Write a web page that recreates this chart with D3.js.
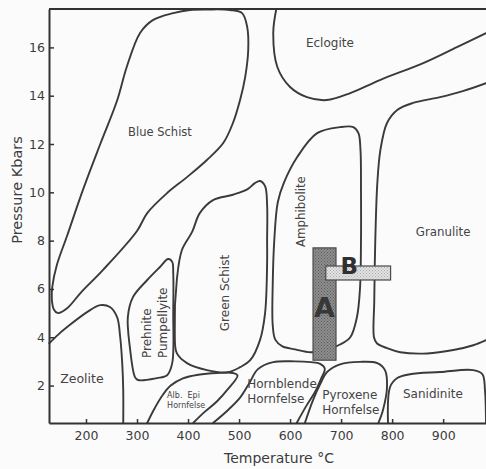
<!DOCTYPE html>
<html>
<head>
<meta charset="utf-8">
<script src="https://cdn.jsdelivr.net/npm/d3@7/dist/d3.min.js"></script>
<style>
  html, body { margin: 0; padding: 0; background: #fbfbfc; }
  svg { display: block; }
  text { font-family: "DejaVu Sans", Verdana, sans-serif; fill: #3c3c3c; }
</style>
</head>
<body>
<svg id="chart" width="486" height="469"></svg>
<script>
// Metamorphic facies diagram: temperature (°C) vs pressure (kbar)

const xTicks = [200, 300, 400, 500, 600, 700, 800, 900];
const yTicks = [2, 4, 6, 8, 10, 12, 14, 16];

// Facies boundaries as [temperature °C, pressure kbar]
// closed fields
const blueSchist = [
  [145, 5.0], [137, 5.15], [133, 5.6], [134, 6.1], [143, 7.0], [163, 8.2], [194, 10.1],
  [228, 12.0], [261, 13.8], [280, 15.2], [306, 16.6], [331, 17.13], [371, 17.42],
  [404, 17.55], [440, 17.57], [482, 17.55], [506, 17.42], [516, 16.84], [518, 15.9],
  [512, 14.77], [502, 13.82], [488, 12.87], [469, 12.04], [437, 11.34], [398, 10.63],
  [359, 9.97], [320, 9.14], [300, 8.4], [233, 6.78], [190, 5.85], [163, 5.2]
];
const greenSchist = [
  [541, 10.47], [551, 10.26], [555, 9.47], [555, 8.0], [555, 7.07], [551, 5.0],
  [541, 3.88], [522, 3.05], [502, 2.76], [477, 2.55], [437, 2.64], [398, 2.93],
  [378, 3.34], [374, 4.3], [378, 6.37], [388, 7.61], [408, 8.36], [423, 9.14],
  [449, 9.68], [488, 9.9], [516, 10.12], [531, 10.38]
];
const prehnitePumpellyite = [
  [282, 4.83], [292, 5.66], [320, 6.37], [345, 6.91], [361, 7.24], [369, 7.12],
  [371, 6.66], [371, 5.0], [369, 2.93], [359, 2.43], [339, 2.31], [302, 2.23],
  [296, 2.35], [286, 3.59]
];
const amphibolite = [
  [569, 8.0], [576, 9.6], [588, 10.4], [614, 11.46], [653, 12.45], [698, 12.7],
  [724, 12.7], [734, 12.45], [738, 11.75], [739, 10.0], [739, 8.0], [737, 6.0],
  [731, 4.83], [718, 4.0], [698, 3.7], [668, 3.45], [640, 3.38], [610, 3.5],
  [585, 3.62], [571, 3.9], [566, 4.5], [566, 6.2]
];
// open boundaries that run to the frame
const zeoliteEdge = [
  [128, 3.75], [145, 4.1], [163, 4.42], [202, 5.04], [228, 5.33], [247, 5.25],
  [261, 4.83], [267, 4.01], [271, 2.93], [273, 1.81], [273, 0.45]
];
const albEpiEdge = [
  [320, 0.45], [333, 1.0], [350, 1.6], [366, 2.0], [390, 2.3], [420, 2.45],
  [457, 2.52], [488, 2.52], [497, 2.42], [478, 1.85], [457, 1.35], [432, 0.9], [410, 0.45]
];
const hornblendeEdge = [
  [449, 0.45], [478, 0.98], [502, 1.5], [520, 2.1], [537, 2.68], [567, 2.97],
  [610, 3.0], [640, 2.97], [659, 2.9], [668, 2.7], [660, 2.25], [648, 1.7],
  [633, 1.2], [613, 0.45]
];
const pyroxeneEdge = [
  [629, 0.45], [645, 1.4], [660, 2.1], [672, 2.55], [698, 2.88], [737, 2.98],
  [771, 2.93], [786, 2.64], [790, 1.94], [782, 0.98], [773, 0.45]
];
const sanidiniteEdge = [
  [792, 0.45], [796, 1.94], [810, 2.31], [835, 2.47], [894, 2.56], [959, 2.64],
  [977, 2.47], [982, 1.81], [984, 0.45]
];
const eclogiteEdge = [
  [573, 17.59], [567, 16.59], [575, 15.19], [600, 14.36], [633, 13.94], [672, 13.82],
  [718, 14.11], [776, 14.65], [861, 15.35], [927, 16.01], [984, 16.59]
];
const granuliteEdge = [
  [984, 14.52], [940, 14.2], [894, 13.94], [841, 13.7], [810, 13.41], [790, 12.87],
  [777, 11.75], [771, 10.38], [767, 8.0], [765, 5.5], [764.5, 4.0], [770, 3.75],
  [790, 3.55], [816, 3.38], [869, 3.33], [920, 3.47], [959, 3.67], [984, 3.88]
];

// P–T windows A and B: [tMin, tMax, pMin, pMax]
const windowA = [645, 690, 3.05, 7.7];
const windowB = [670, 797, 6.37, 6.95];

// Field names: [text, T, P, rotate, anchor, size]
const fieldLabels = [
  ["Eclogite", 678, 16.18, 0, "middle", 12],
  ["Blue Schist", 345, 12.5, 0, "middle", 11.5],
  ["Granulite", 900, 8.36, 0, "middle", 11.8],
  ["Amphibolite", 620, 9.2, -90, "middle", 11.8],
  ["Green Schist", 471, 5.83, -90, "middle", 12],
  ["Prehnite", 318, 3.14, -90, "start", 12],
  ["Pumpellyite", 351, 3.14, -90, "start", 12],
  ["Zeolite", 192, 2.31, 0, "middle", 12.5],
  ["Alb.  Epi", 359, 1.6, 0, "start", 8],
  ["Hornfelse", 359, 1.18, 0, "start", 8],
  ["Hornblende", 516, 2.06, 0, "start", 12],
  ["Hornfelse", 516, 1.44, 0, "start", 12],
  ["Pyroxene", 663, 1.62, 0, "start", 12],
  ["Hornfelse", 663, 1.0, 0, "start", 12],
  ["Sanidinite", 880, 1.65, 0, "middle", 12]
];

const svg = d3.select("#chart");
const W = 486, H = 469;
const margin = { left: 49, right: 0, top: 9, bottom: 46 };

const x = d3.scaleLinear().domain([127.5, 984]).range([margin.left, W - margin.right]);
const y = d3.scaleLinear().domain([0.45, 17.59]).range([H - margin.bottom, margin.top]);

svg.append("rect").attr("width", W).attr("height", H).attr("fill", "#fbfbfc");

// stipple fills for the windows
const defs = svg.append("defs");
function stipple(id, bg, dot) {
  const p = defs.append("pattern").attr("id", id)
    .attr("width", 3).attr("height", 3).attr("patternUnits", "userSpaceOnUse");
  p.append("rect").attr("width", 3).attr("height", 3).attr("fill", bg);
  p.append("rect").attr("width", 1).attr("height", 1).attr("fill", dot);
  p.append("rect").attr("x", 1.5).attr("y", 1.5).attr("width", 1).attr("height", 1).attr("fill", dot);
}
stipple("stA", "#8e8e8e", "#5c5c5c");
stipple("stB", "#e2e2e2", "#ababab");

const plot = svg.append("g");

const openLine = d3.line().x(d => x(d[0])).y(d => y(d[1])).curve(d3.curveCatmullRom.alpha(0.5));
const closedLine = d3.line().x(d => x(d[0])).y(d => y(d[1])).curve(d3.curveCatmullRomClosed.alpha(0.5));

const lineStyle = sel => sel.attr("fill", "none").attr("stroke", "#3a3a3a")
  .attr("stroke-width", 1.9).attr("stroke-linejoin", "round").attr("stroke-linecap", "round");

[blueSchist, greenSchist, prehnitePumpellyite, amphibolite].forEach(f => {
  plot.append("path").attr("d", closedLine(f)).call(lineStyle);
});
[zeoliteEdge, albEpiEdge, hornblendeEdge, pyroxeneEdge, sanidiniteEdge, eclogiteEdge, granuliteEdge].forEach(f => {
  plot.append("path").attr("d", openLine(f)).call(lineStyle);
});

// field names
fieldLabels.forEach(([t, T, P, rot, anchor, size]) => {
  const tx = x(T), ty = y(P);
  plot.append("text")
    .attr("transform", `translate(${tx},${ty}) rotate(${rot})`)
    .attr("text-anchor", anchor)
    .attr("dy", "0.36em")
    .style("font-size", size + "px")
    .style("white-space", "pre")
    .style("fill", "#444")
    .text(t);
});

// windows A and B
function windowRect(w, fill) {
  plot.append("rect")
    .attr("x", x(w[0])).attr("y", y(w[3]))
    .attr("width", x(w[1]) - x(w[0])).attr("height", y(w[2]) - y(w[3]))
    .attr("fill", fill).attr("stroke", "#4a4a4a").attr("stroke-width", 1.2);
}
windowRect(windowA, "url(#stA)");
windowRect(windowB, "url(#stB)");

plot.append("text")
  .attr("x", x((windowA[0] + windowA[1]) / 2)).attr("y", y(5.25))
  .attr("dy", "0.36em").attr("text-anchor", "middle")
  .style("font-size", "27px").style("font-weight", "bold").style("fill", "#383838")
  .text("A");
plot.append("text")
  .attr("x", x(716)).attr("y", y(6.95))
  .attr("dy", "0.36em").attr("text-anchor", "middle")
  .style("font-size", "23px").style("font-weight", "bold").style("fill", "#303030")
  .text("B");

// frame and axes
const axisColor = "#333";
svg.append("line")
  .attr("x1", x.range()[0]).attr("x2", x.range()[1])
  .attr("y1", y.range()[1]).attr("y2", y.range()[1])
  .attr("stroke", axisColor).attr("stroke-width", 2);

const gx = svg.append("g").attr("transform", `translate(0,${y.range()[0]})`)
  .call(d3.axisBottom(x).tickValues(xTicks).tickSizeInner(-4).tickSizeOuter(0).tickPadding(8));
const gy = svg.append("g").attr("transform", `translate(${x.range()[0]},0)`)
  .call(d3.axisLeft(y).tickValues(yTicks).tickSizeInner(-5).tickSizeOuter(0).tickPadding(4));

[gx, gy].forEach(g => {
  g.select(".domain").attr("stroke", axisColor).attr("stroke-width", 2);
  g.selectAll(".tick line").attr("stroke", axisColor).attr("stroke-width", 1.5);
  g.selectAll(".tick text")
    .style("font-family", '"DejaVu Sans", Verdana, sans-serif')
    .style("font-size", "12.5px").style("fill", "#3c3c3c");
});

svg.append("text")
  .attr("x", 279).attr("y", 463)
  .attr("text-anchor", "middle")
  .style("font-size", "14px").style("fill", "#3c3c3c")
  .text("Temperature °C");

svg.append("text")
  .attr("transform", "translate(17,190) rotate(-90)")
  .attr("text-anchor", "middle").attr("dy", "0.36em")
  .style("font-size", "14.5px").style("fill", "#3c3c3c")
  .text("Pressure Kbars");
</script>
</body>
</html>
